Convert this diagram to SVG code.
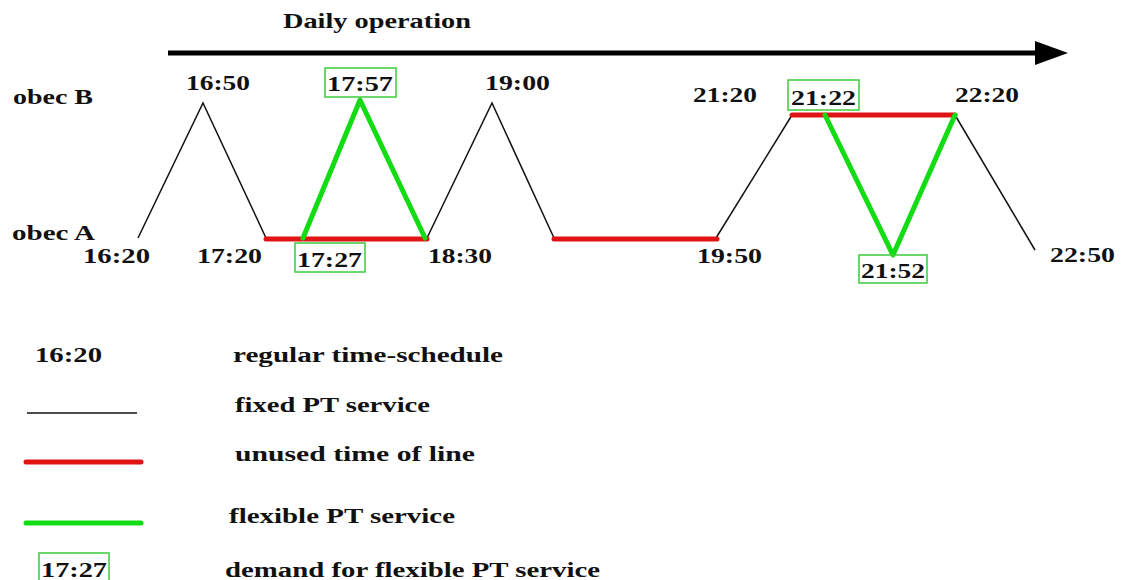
<svg xmlns="http://www.w3.org/2000/svg" width="1125" height="580" viewBox="0 0 1125 580" font-family="'Liberation Serif', 'DejaVu Serif', 'Times New Roman', serif" font-weight="bold">
  <style>
    .t { font-size: 21px; fill: #111; }
    .lbl { font-size: 20px; fill: #111; }
    .fixed { fill: none; stroke: #111; stroke-width: 1.5; }
    .unused { fill: none; stroke: #e01414; stroke-width: 5; stroke-linecap: round; }
    .flex { fill: none; stroke: #14dc14; stroke-width: 5; stroke-linecap: round; stroke-linejoin: round; }
    .box { fill: none; stroke: #3ccc3c; stroke-width: 1.5; }
  </style>
  <rect width="1125" height="580" fill="#fff"/>

  <!-- time axis -->
  <g id="axis">
    <text class="t" x="283" y="28" textLength="188" lengthAdjust="spacingAndGlyphs">Daily operation</text>
    <line x1="168" y1="53" x2="1037" y2="53" stroke="#000" stroke-width="5"/>
    <polygon points="1035,41 1068,53 1035,65" fill="#000"/>
  </g>

  <!-- stops -->
  <g id="stop-b"><text class="t" x="13" y="104" textLength="80" lengthAdjust="spacingAndGlyphs">obec B</text></g>
  <g id="stop-a"><text class="t" x="12" y="240" textLength="83" lengthAdjust="spacingAndGlyphs">obec A</text></g>

  <!-- service segments -->
  <g id="connectors">
    <polyline class="fixed" points="138,238 203,103 266,238"/>
    <polyline class="fixed" points="427,238 492,103 554,238"/>
    <polyline class="fixed" points="716,238 792,115"/>
    <polyline class="fixed" points="955,115 1035,250"/>
    <line class="unused" x1="266" y1="239" x2="427" y2="239"/>
    <line class="unused" x1="554" y1="239" x2="717" y2="239"/>
    <line class="unused" x1="792" y1="115" x2="955" y2="115"/>
    <polyline class="flex" points="303,238 360,100 425,238"/>
    <polyline class="flex" points="825,115 893,255 955,115"/>
  </g>

  <!-- regular departures -->
  <g id="t1620"><text class="lbl" x="83" y="263" textLength="67" lengthAdjust="spacingAndGlyphs">16:20</text></g>
  <g id="t1650"><text class="lbl" x="186" y="90" textLength="64" lengthAdjust="spacingAndGlyphs">16:50</text></g>
  <g id="t1720"><text class="lbl" x="197" y="263" textLength="65" lengthAdjust="spacingAndGlyphs">17:20</text></g>
  <g id="t1830"><text class="lbl" x="428" y="263" textLength="64" lengthAdjust="spacingAndGlyphs">18:30</text></g>
  <g id="t1900"><text class="lbl" x="485" y="90" textLength="65" lengthAdjust="spacingAndGlyphs">19:00</text></g>
  <g id="t1950"><text class="lbl" x="697" y="263" textLength="65" lengthAdjust="spacingAndGlyphs">19:50</text></g>
  <g id="t2120"><text class="lbl" x="693" y="102" textLength="64" lengthAdjust="spacingAndGlyphs">21:20</text></g>
  <g id="t2220"><text class="lbl" x="955" y="102" textLength="64" lengthAdjust="spacingAndGlyphs">22:20</text></g>
  <g id="t2250"><text class="lbl" x="1050" y="262" textLength="65" lengthAdjust="spacingAndGlyphs">22:50</text></g>

  <!-- demand-responsive departures -->
  <g id="d1727"><rect class="box" x="295" y="243" width="70" height="29"/><text class="lbl" x="297" y="267" textLength="65" lengthAdjust="spacingAndGlyphs">17:27</text></g>
  <g id="d1757"><rect class="box" x="325" y="68" width="71" height="29"/><text class="lbl" x="327" y="91" textLength="66" lengthAdjust="spacingAndGlyphs">17:57</text></g>
  <g id="d2122"><rect class="box" x="788" y="80" width="71" height="30"/><text class="lbl" x="791" y="105" textLength="65" lengthAdjust="spacingAndGlyphs">21:22</text></g>
  <g id="d2152"><rect class="box" x="859" y="255" width="68" height="28"/><text class="lbl" x="861" y="278" textLength="64" lengthAdjust="spacingAndGlyphs">21:52</text></g>

  <!-- legend -->
  <g id="legend">
    <text class="lbl" x="35" y="362" textLength="67" lengthAdjust="spacingAndGlyphs">16:20</text>
    <text class="lbl" x="233" y="362" textLength="270" lengthAdjust="spacingAndGlyphs">regular time-schedule</text>
    <line class="fixed" x1="27" y1="413" x2="137" y2="413"/>
    <text class="lbl" x="235" y="412" textLength="195" lengthAdjust="spacingAndGlyphs">fixed PT service</text>
    <line class="unused" x1="26" y1="462" x2="141" y2="462"/>
    <text class="lbl" x="235" y="461" textLength="240" lengthAdjust="spacingAndGlyphs">unused time of line</text>
    <line class="flex" x1="26" y1="523" x2="141" y2="523"/>
    <text class="lbl" x="229" y="523" textLength="226" lengthAdjust="spacingAndGlyphs">flexible PT service</text>
    <rect class="box" x="39" y="553" width="70" height="30"/>
    <text class="lbl" x="41" y="577" textLength="66" lengthAdjust="spacingAndGlyphs">17:27</text>
    <text class="lbl" x="225" y="577" textLength="375" lengthAdjust="spacingAndGlyphs">demand for flexible PT service</text>
  </g>
</svg>
